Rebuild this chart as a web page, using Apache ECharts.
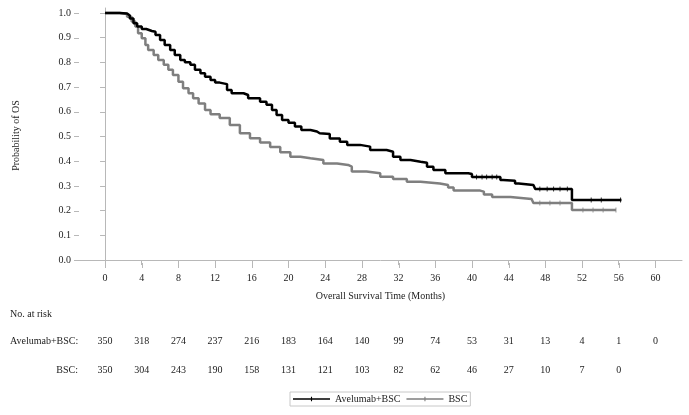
<!DOCTYPE html>
<html>
<head>
<meta charset="utf-8">
<script src="https://cdn.jsdelivr.net/npm/echarts@6/dist/echarts.min.js"></script>
<style>html,body{margin:0;padding:0;background:#fff;}#c{width:689px;height:415px;}</style>
</head>
<body>
<div id="c"></div>
<script>
const xTicks = [0,4,8,12,16,20,24,28,32,36,40,44,48,52,56,60];
const yTicks = [0,0.1,0.2,0.3,0.4,0.5,0.6,0.7,0.8,0.9,1.0];
const seriesNames = ['Avelumab+BSC', 'BSC'];
const timeA = [0,1.1,1.6,2.4,2.7,3.1,3.5,4.0,4.5,5.1,5.5,6.0,6.5,7.1,7.6,8.2,8.7,9.3,9.8,10.4,10.9,11.5,12.0,12.5,13.3,13.8,15.1,15.6,16.9,17.6,18.2,18.7,19.3,20.0,20.7,21.4,22.4,23.1,23.4,24.5,25.6,26.4,27.8,28.9,30.7,31.4,32.2,33.3,34.4,35.1,35.8,37.1,39.6,40.0,43.1,43.4,44.7,45.1,46.7,46.9,50.9,56.3];
const survA = [1.0,1.0,0.998,0.99,0.978,0.958,0.945,0.935,0.927,0.924,0.911,0.89,0.87,0.85,0.83,0.81,0.80,0.79,0.77,0.756,0.742,0.729,0.718,0.712,0.688,0.675,0.668,0.655,0.641,0.628,0.607,0.587,0.567,0.556,0.54,0.526,0.52,0.513,0.51,0.492,0.479,0.466,0.459,0.445,0.438,0.418,0.405,0.398,0.394,0.378,0.364,0.351,0.348,0.336,0.324,0.321,0.31,0.304,0.3,0.287,0.243,0.243];
const timeB = [0,1.6,2.4,2.9,3.3,3.6,4.0,4.4,4.7,5.3,5.8,6.4,6.9,7.4,8.0,8.5,9.1,9.6,10.2,10.9,11.5,12.5,13.6,14.7,15.8,16.9,18.0,19.1,20.2,21.3,22.4,23.8,25.3,26.5,26.9,28.5,30.0,31.4,32.9,34.4,36.5,37.4,38.0,40.9,41.3,42.2,44.2,46.5,46.7,50.9,55.7];
const survB = [1.0,0.996,0.985,0.965,0.945,0.918,0.898,0.87,0.85,0.83,0.81,0.79,0.77,0.749,0.722,0.695,0.675,0.655,0.634,0.607,0.59,0.575,0.547,0.513,0.493,0.476,0.457,0.436,0.418,0.412,0.405,0.391,0.385,0.378,0.358,0.351,0.337,0.328,0.317,0.31,0.304,0.294,0.281,0.277,0.265,0.255,0.247,0.24,0.231,0.202,0.202];
const censorTimeA = [40.5,41.1,41.6,42.2,42.7,47.4,48.2,48.9,49.6,50.4,53.0,54.1,56.2];
const censorSurvA = [0.336,0.336,0.336,0.336,0.336,0.287,0.287,0.287,0.287,0.287,0.243,0.243,0.243];
const censorTimeB = [47.4,48.5,49.6,52.1,53.2,54.3,55.7];
const censorSurvB = [0.231,0.231,0.231,0.202,0.202,0.202,0.202];
const riskA = [350,318,274,237,216,183,164,140,99,74,53,31,13,4,1,0];
const riskB = [350,304,243,190,158,131,121,103,82,62,46,27,10,7,0];

const FONT = '"Liberation Serif","Times New Roman",serif';
const TXT = '#222';
const AXIS = '#b8b8b8';
const colors = ['#000000', '#7f7f7f'];
const legendIcon = 'path://M0,3.3H40V4.7H0Z M19.4,1.5H20.6V6.5H19.4Z';
const X_MIN = -2.84, X_MAX = 62.9, Y_MIN = -0.012, Y_MAX = 1.02;

const zip = (a, b) => a.map((v, i) => [v, b[i]]);

const chart = echarts.init(document.getElementById('c'), null, {renderer: 'canvas'});
const option = {
  animation: false,
  backgroundColor: '#fff',
  textStyle: {fontFamily: FONT},
  grid: {left: 79, right: 7, top: 8, bottom: 152},
  xAxis: {
    type: 'value', min: X_MIN, max: X_MAX,
    name: 'Overall Survival Time (Months)', nameLocation: 'middle', nameGap: 28,
    nameTextStyle: {fontFamily: FONT, fontSize: 10, color: TXT},
    axisLine: {lineStyle: {color: AXIS, width: 1}},
    axisTick: {show: true, length: 5, customValues: xTicks, lineStyle: {color: AXIS, width: 1}},
    axisLabel: {customValues: xTicks, margin: 10, fontFamily: FONT, fontSize: 10, color: TXT},
    splitLine: {show: false}
  },
  yAxis: {
    type: 'value', min: Y_MIN, max: Y_MAX,
    name: 'Probability of OS', nameLocation: 'middle', nameGap: 58,
    nameTextStyle: {fontFamily: FONT, fontSize: 10, color: TXT},
    axisLine: {show: true, lineStyle: {color: AXIS, width: 1}},
    axisTick: {show: true, length: 5, customValues: yTicks, lineStyle: {color: AXIS, width: 1}},
    axisLabel: {customValues: yTicks, margin: 8, fontFamily: FONT, fontSize: 10, color: TXT,
      formatter: v => v.toFixed(1)},
    splitLine: {show: false}
  },
  legend: {
    left: 290, top: 392, orient: 'horizontal',
    data: seriesNames.map(n => ({name: n, icon: legendIcon})),
    itemWidth: 37, itemHeight: 8, itemGap: 6,
    padding: [2, 3, 2, 3],
    borderColor: '#c8c8c8', borderWidth: 1,
    textStyle: {fontFamily: FONT, fontSize: 10, color: TXT}
  },
  series: [
    {name: seriesNames[0], type: 'line', step: 'end', data: zip(timeA, survA), showSymbol: false, symbol: 'none',
      lineStyle: {color: colors[0], width: 2.5}, itemStyle: {color: colors[0]}, z: 3},
    {name: seriesNames[1], type: 'line', step: 'end', data: zip(timeB, survB), showSymbol: false, symbol: 'none',
      lineStyle: {color: colors[1], width: 2.5}, itemStyle: {color: colors[1]}, z: 2},
    {name: seriesNames[0] + ' censored', type: 'scatter', data: zip(censorTimeA, censorSurvA), symbol: 'rect', symbolSize: [1, 5],
      itemStyle: {color: colors[0]}, z: 4, silent: true},
    {name: seriesNames[1] + ' censored', type: 'scatter', data: zip(censorTimeB, censorSurvB), symbol: 'rect', symbolSize: [1, 5],
      itemStyle: {color: colors[1]}, z: 4, silent: true}
  ]
};
chart.setOption(option);

const textStyle = (extra) => Object.assign({fontFamily: FONT, fontSize: 10, fill: TXT}, extra);
const graphics = [
  {type: 'text', x: 10, y: 314, style: textStyle({text: 'No. at risk', verticalAlign: 'middle'})},
  {type: 'text', x: 10, y: 341, style: textStyle({text: 'Avelumab+BSC:', verticalAlign: 'middle'})},
  {type: 'text', x: 78, y: 370, style: textStyle({text: 'BSC:', align: 'right', verticalAlign: 'middle'})}
];
// axis tick marks, positioned through the axes' own scales
const xAxisPix = chart.convertToPixel({yAxisIndex: 0}, Y_MIN);
const yAxisPix = chart.convertToPixel({xAxisIndex: 0}, X_MIN);
xTicks.forEach(t => {
  const px = Math.round(chart.convertToPixel({xAxisIndex: 0}, t)) + 0.5;
  graphics.push({type: 'line', silent: true, shape: {x1: px, y1: xAxisPix, x2: px, y2: xAxisPix + 5},
    style: {stroke: AXIS, lineWidth: 1}});
});
yTicks.forEach(v => {
  const py = Math.round(chart.convertToPixel({yAxisIndex: 0}, v)) + 0.5;
  graphics.push({type: 'line', silent: true, shape: {x1: yAxisPix - 5, y1: py, x2: yAxisPix, y2: py},
    style: {stroke: AXIS, lineWidth: 1}});
});
riskA.forEach((v, i) => {
  const px = chart.convertToPixel({xAxisIndex: 0}, xTicks[i]);
  graphics.push({type: 'text', x: px, y: 341, style: textStyle({text: String(v), align: 'center', verticalAlign: 'middle'})});
});
riskB.forEach((v, i) => {
  const px = chart.convertToPixel({xAxisIndex: 0}, xTicks[i]);
  graphics.push({type: 'text', x: px, y: 370, style: textStyle({text: String(v), align: 'center', verticalAlign: 'middle'})});
});
chart.setOption({graphic: graphics});
</script>
</body>
</html>
